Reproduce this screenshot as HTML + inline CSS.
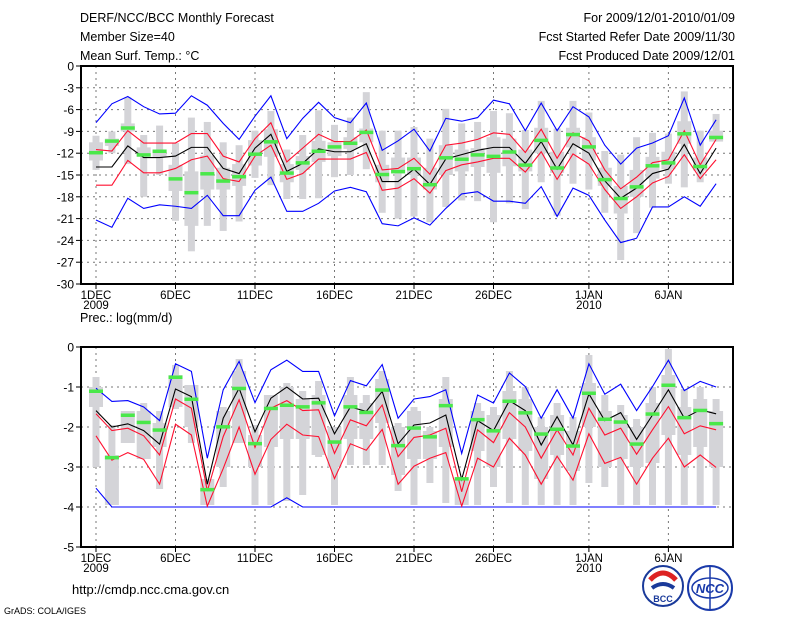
<!DOCTYPE html>
<html><head><meta charset="utf-8">
<style>
body{margin:0;background:#fff;}
svg{display:block;font-family:"Liberation Sans",sans-serif;}
</style></head>
<body>
<svg id="chart" width="800" height="618" viewBox="0 0 800 618" xmlns="http://www.w3.org/2000/svg">
<rect width="800" height="618" fill="#fff"/>
<g font-size="12.5" fill="#000">
<text x="80" y="22">DERF/NCC/BCC Monthly Forecast</text>
<text x="80" y="41">Member Size=40</text>
<text x="80" y="60">Mean Surf. Temp.: °C</text>
<text x="735" y="22" text-anchor="end">For 2009/12/01-2010/01/09</text>
<text x="735" y="41" text-anchor="end">Fcst Started Refer Date 2009/11/30</text>
<text x="735" y="60" text-anchor="end">Fcst Produced Date 2009/12/01</text>
<text x="80" y="322">Prec.: log(mm/d)</text>
<text x="72" y="594" font-size="13">http://cmdp.ncc.cma.gov.cn</text>
<text x="4" y="614" font-size="9">GrADS: COLA/IGES</text>
</g>
<g id="top"></g>
<g id="bot"></g>
<g>
<circle cx="663" cy="586" r="20" fill="#fff" stroke="#1a3a9a" stroke-width="2"/>
<path d="M650 580 q13 -14 26 0" fill="none" stroke="#d22" stroke-width="5"/>
<path d="M652 588 q11 -8 22 0" fill="none" stroke="#1a3a9a" stroke-width="4"/>
<text x="663" y="602" font-size="9" font-weight="bold" text-anchor="middle" fill="#1a3a9a">BCC</text>
</g>
<g>
<circle cx="710" cy="588" r="22" fill="#fff" stroke="#1a3aaa" stroke-width="2"/>
<ellipse cx="710" cy="588" rx="18" ry="10" fill="none" stroke="#1a3aaa" stroke-width="1.5"/>
<line x1="710" y1="567" x2="710" y2="609" stroke="#1a3aaa" stroke-width="1.5"/>
<text x="710" y="593" font-size="13" font-weight="bold" font-style="italic" text-anchor="middle" fill="#1a3aaa">NCC</text>
</g>
</svg>
<script>
// ---- Temperature data (days 1..40) ----
const days = Array.from({length:40},(_,i)=>i+1);
const dayTickDays = [1,6,11,16,21,26,32,37];
const dayTickLabels = ["1DEC","6DEC","11DEC","16DEC","21DEC","26DEC","1JAN","6JAN"];
const topYTicks = [0,-3,-6,-9,-12,-15,-18,-21,-24,-27,-30];
const botYTicks = [0,-1,-2,-3,-4,-5];
const tMean = [-13.9,-13.9,-11,-12.6,-12.6,-12.4,-11.2,-11.2,-14.1,-14.8,-11.3,-9.4,-14.5,-13.4,-11.4,-11.8,-11.8,-10.7,-15.9,-15.9,-14.2,-16.3,-12.8,-12.2,-11.6,-11.2,-11.2,-13.4,-10.4,-14.2,-10.7,-12,-15.8,-18.2,-16.8,-14.8,-14.2,-10.8,-14.8,-11.3];
const tRedHi = [-11.5,-11.7,-8.9,-10.6,-10.6,-10.6,-9.3,-9.3,-12.4,-13.2,-10,-7.8,-13.2,-11.3,-9.4,-10.4,-10.4,-8.8,-14.3,-14.1,-12.7,-14.9,-10.9,-10.6,-10.1,-9.2,-9.4,-11.9,-8.7,-12.7,-9.2,-10.3,-14.3,-16.9,-15.3,-13.3,-12.9,-8.9,-13.6,-10.1];
const tRedLo = [-16.4,-16.4,-13,-14.7,-14.7,-14.1,-12.9,-12.4,-15.5,-15.9,-12.4,-10.9,-15.6,-14.8,-12.8,-12.8,-12.8,-11.9,-17.1,-16.8,-15.5,-17.5,-14.4,-13.6,-13.2,-12.7,-12.7,-14.6,-11.8,-15.6,-12.1,-13.5,-17,-19.6,-18,-16.1,-15.2,-12.2,-15.5,-12.9];
const tBlueHi = [-7.8,-5.2,-4.2,-5.6,-6.6,-6.5,-4.1,-5.4,-7.9,-10.1,-6.9,-4.1,-10,-7.2,-5,-7.1,-7.8,-5.1,-11.6,-10.3,-8.7,-11.7,-7.2,-7.6,-7.1,-4.7,-5.2,-8.9,-5.1,-8.9,-5.6,-7,-10.9,-13.5,-11.3,-10.6,-9.6,-4.4,-10.9,-7.4];
const tBlueLo = [-21.2,-22.2,-18.2,-19.6,-19.1,-19.3,-19.6,-17.8,-20.6,-20.6,-17.1,-15.3,-20,-20,-18.9,-17.2,-16.7,-17.3,-21.7,-22,-20.9,-21.9,-19.6,-17.6,-17.3,-18.6,-18.6,-18.9,-16.6,-20.7,-16.8,-17.8,-21.2,-24.3,-23.7,-19.4,-19.4,-18,-19.3,-16.2];
const tObs = [-11.9,-10.3,-8.5,-12.2,-11.7,-15.5,-17.4,-14.8,-15.8,-15.2,-12.1,-10.4,-14.7,-13.3,-11.7,-11.1,-10.6,-9.1,-14.9,-14.5,-14.1,-16.3,-12.6,-12.8,-12.2,-12.4,-11.8,-13.6,-10.2,-14,-9.4,-11.1,-15.6,-18.2,-16.6,-13.7,-13.3,-9.3,-13.8,-9.8];
const tWhiskHi = [-9.6,-9,-4.3,-9.5,-8.2,-10.6,-7.1,-7.7,-10.5,-10.9,-8.9,-6.2,-11.5,-9.5,-6.1,-8.1,-7.1,-3.6,-8.9,-8.9,-8.4,-10,-5.9,-7.9,-7.7,-6.2,-6.5,-8.8,-4.8,-8.6,-4.8,-6.4,-11.7,-12.2,-9.8,-9.2,-9.3,-3.5,-8.9,-6.6];
const tWhiskLo = [-14.3,-12,-13.5,-18,-15,-21.3,-25.5,-22,-22.7,-21.4,-15.4,-16.4,-18.3,-18.3,-18.2,-15.3,-15,-14.2,-20.2,-21,-20.7,-21.5,-19.4,-18.5,-18.6,-21.5,-18.9,-19.7,-16,-20.6,-16.2,-17,-20.2,-26.7,-23,-19.5,-16.2,-16.7,-16,-10.4];
const tBoxHi = [-10.5,-10,-7.9,-11.2,-11.5,-13.6,-14.5,-12.3,-14,-13.5,-10.2,-8.7,-13.5,-12.4,-10.3,-10.5,-9.8,-8.6,-13.6,-12.6,-12.6,-14,-10.9,-11.5,-11.3,-9.8,-10,-11.5,-8.5,-11.8,-8.5,-9.8,-14,-16.5,-14.3,-12.5,-11.8,-7.6,-12.6,-8.9];
const tBoxLo = [-13,-11,-9,-12.5,-12.5,-17.2,-22,-17,-17,-16.5,-13.7,-12.5,-16,-14.3,-13.2,-12.4,-11.4,-10.5,-16,-14.8,-15,-17,-15,-14.5,-13.9,-14.7,-13.8,-14.5,-12,-14.7,-11.2,-13,-16.5,-20.3,-18,-15.5,-14.2,-10.7,-14.4,-10.4];
// ---- Precipitation data ----
const pMean = [-1.59,-2.0,-1.92,-2.09,-2.43,-1.05,-1.24,-3.43,-1.78,-1.03,-2.12,-1.28,-1.0,-1.3,-1.28,-2.17,-1.5,-1.61,-1.11,-2.42,-1.95,-1.9,-1.7,-3.31,-1.84,-2.09,-1.34,-1.59,-2.45,-1.74,-2.45,-1.17,-1.84,-1.64,-2.31,-1.7,-1.07,-1.78,-1.57,-1.67];
const pRedHi = [-1.67,-2.09,-2.03,-2.22,-2.7,-1.3,-1.53,-3.6,-2.24,-1.32,-2.51,-1.53,-1.34,-1.59,-1.57,-2.66,-1.82,-1.97,-1.45,-2.74,-2.26,-2.2,-2.03,-3.62,-2.07,-2.39,-1.64,-2.0,-2.78,-2.07,-2.7,-1.53,-2.2,-2.03,-2.68,-2.07,-1.49,-2.17,-1.97,-2.07];
const pRedLo = [-2.22,-2.83,-2.64,-2.81,-3.43,-1.93,-2.2,-3.98,-3.04,-2.0,-3.18,-2.31,-1.93,-2.2,-2.24,-3.29,-2.42,-2.58,-2.06,-3.43,-2.98,-2.78,-2.64,-3.98,-2.78,-3.0,-2.28,-2.7,-3.43,-2.73,-3.33,-2.17,-2.91,-2.76,-3.43,-2.78,-2.28,-3.0,-2.7,-3.01];
const pBlueHi = [-1.03,-1.36,-1.34,-1.5,-1.84,-0.42,-0.61,-2.78,-1.07,-0.36,-1.39,-0.57,-0.33,-0.61,-0.61,-1.72,-0.84,-0.97,-0.44,-1.78,-1.3,-1.24,-1.07,-2.66,-1.2,-1.4,-0.65,-0.99,-1.78,-1.07,-1.78,-0.42,-1.18,-0.93,-1.59,-0.99,-0.33,-1.09,-0.86,-1.0];
const pBlueLo = [-3.53,-4,-4,-4,-4,-4,-4,-4,-4,-4,-4,-4,-3.77,-4,-4,-4,-4,-4,-4,-4,-4,-4,-4,-4,-4,-4,-4,-4,-4,-4,-4,-4,-4,-4,-4,-4,-4,-4,-4,-4];
const pObs = [-1.1,-2.76,-1.7,-1.88,-2.07,-0.75,-1.3,-3.56,-1.99,-1.03,-2.41,-1.53,-1.45,-1.49,-1.39,-2.37,-1.49,-1.63,-1.07,-2.46,-2.02,-2.24,-1.46,-3.29,-1.81,-2.09,-1.35,-1.64,-2.17,-2.05,-2.47,-1.15,-1.8,-1.87,-2.42,-1.67,-0.95,-1.76,-1.58,-1.91];
const pWhiskHi = [-0.75,-1.95,-1.6,-1.4,-1.6,-0.45,-0.95,-3.3,-1.5,-0.3,-1.95,-1.2,-0.9,-1.1,-0.85,-2.0,-0.75,-1.2,-0.6,-1.9,-1.5,-2.0,-0.75,-3.3,-1.4,-1.5,-0.6,-1.0,-1.75,-1.4,-1.75,-0.2,-1.2,-1.45,-1.8,-1.0,-0.05,-1.05,-1.0,-1.3];
const pWhiskLo = [-3,-3.95,-2.4,-2.8,-3.55,-1.55,-2.4,-3.95,-3.5,-2.4,-3.95,-3.95,-3.85,-3.7,-2.75,-3.95,-2.95,-2.95,-2.95,-3.6,-3.95,-3.4,-3.9,-3.95,-3.95,-3.5,-3.9,-3.95,-3.95,-3.95,-3.95,-3.4,-3.5,-3.95,-3.95,-3.95,-3.95,-3.95,-3.95,-3.95];
const pBoxHi = [-1.0,-2.7,-1.6,-1.6,-1.9,-0.7,-0.95,-3.3,-1.6,-0.6,-2.2,-1.2,-1.0,-1.3,-1.2,-2.0,-1.2,-1.4,-0.8,-2.0,-1.6,-2.1,-1.3,-3.3,-1.6,-1.7,-1.1,-1.3,-2.0,-1.7,-2.1,-0.9,-1.6,-1.7,-2.0,-1.4,-0.7,-1.5,-1.3,-1.6];
const pBoxLo = [-1.5,-3.95,-2.4,-2.8,-2.5,-1.5,-2.0,-3.95,-3.0,-2.4,-3.0,-2.5,-2.3,-2.3,-2.7,-3.0,-2.3,-2.3,-1.9,-3.2,-2.8,-2.8,-2.5,-3.95,-2.6,-3.0,-2.3,-2.6,-3.3,-2.7,-3.1,-2.0,-3.0,-2.8,-3.0,-2.9,-2.2,-2.7,-2.5,-3.0];

const NS='http://www.w3.org/2000/svg';
const X0=81, X1=733;
function xs(d){return 96+(d-1)*15.9;}
function mk(tag,attrs,parent){const e=document.createElementNS(NS,tag);for(const k in attrs)e.setAttribute(k,attrs[k]);parent.appendChild(e);return e;}

function panel(g, y0, y1, vmax, vmin, yTicks, S, pre){
  const ys=v=>y0+(vmax-v)/(vmax-vmin)*(y1-y0);
  yTicks.forEach(t=>{
    if(t!==vmax && t!==vmin){
      const l=mk('line',{x1:X0,x2:X1,y1:ys(t),y2:ys(t),stroke:'#777','stroke-dasharray':'2,4','stroke-width':1},g);
      
      
    }
    const tx=mk('text',{x:74,y:ys(t)+4.5,'text-anchor':'end','font-size':12},g);
    
    
    tx.textContent=String(t);
    const tk=mk('line',{x1:X0-5,x2:X0,y1:ys(t),y2:ys(t),stroke:'#000'},g);
    
    
  });
  dayTickDays.forEach((d,i)=>{
    const l=mk('line',{x1:xs(d),x2:xs(d),y1:y0,y2:y1,stroke:'#777','stroke-dasharray':'2,4'},g);
    
    
    const tk=mk('line',{x1:xs(d),x2:xs(d),y1:y1,y2:y1+5,stroke:'#000'},g);
    
    
    const tx=mk('text',{x:xs(d),y:y1+15,'text-anchor':'middle','font-size':11.5},g);
    
    
    tx.textContent=dayTickLabels[i];
  });
  [[1,'2009'],[32,'2010']].forEach(([d,s])=>{
    const tx=mk('text',{x:xs(d),y:y1+25,'text-anchor':'middle','font-size':11.5},g);
    
    
    tx.textContent=s;
  });
  days.forEach((d,i)=>{
    const w=mk('rect',{x:xs(d)-3.5,y:ys(S.wh[i]),width:7,height:Math.max(1,ys(S.wl[i])-ys(S.wh[i])),fill:'#d4d4d8'},g);
    
    
    const b=mk('rect',{x:xs(d)-7,y:ys(S.bh[i]),width:14,height:Math.max(1,ys(S.bl[i])-ys(S.bh[i])),fill:'#d4d4d8'},g);
    
    
  });
  const line=(arr,col,name)=>{
    const p=mk('polyline',{points:days.map((d,i)=>xs(d)+','+ys(arr[i])).join(' '),fill:'none',stroke:col,'stroke-width':1.1},g);
    
    
  };
  line(S.blo,'#0000ff','lower-extreme-line');
  line(S.bhi,'#0000ff','upper-extreme-line');
  line(S.rlo,'#ff1030','lower-spread-line');
  line(S.rhi,'#ff1030','upper-spread-line');
  line(S.mean,'#000','ensemble-mean-line');
  days.forEach((d,i)=>{
    const o=mk('rect',{x:xs(d)-7,y:ys(S.obs[i])-1.5,width:14,height:3.5,fill:'#4ae84a'},g);
    
    
  });
  const f=mk('rect',{x:X0,y:y0,width:X1-X0,height:y1-y0,fill:'none',stroke:'#000','stroke-width':2},g);
  
  
}
panel(document.getElementById('top'),66,284,0,-30,topYTicks,
  {mean:tMean,rhi:tRedHi,rlo:tRedLo,bhi:tBlueHi,blo:tBlueLo,obs:tObs,wh:tWhiskHi,wl:tWhiskLo,bh:tBoxHi,bl:tBoxLo},'temp');
panel(document.getElementById('bot'),347,547,0,-5,botYTicks,
  {mean:pMean,rhi:pRedHi,rlo:pRedLo,bhi:pBlueHi,blo:pBlueLo,obs:pObs,wh:pWhiskHi,wl:pWhiskLo,bh:pBoxHi,bl:pBoxLo},'prec');
</script>
</body></html>
